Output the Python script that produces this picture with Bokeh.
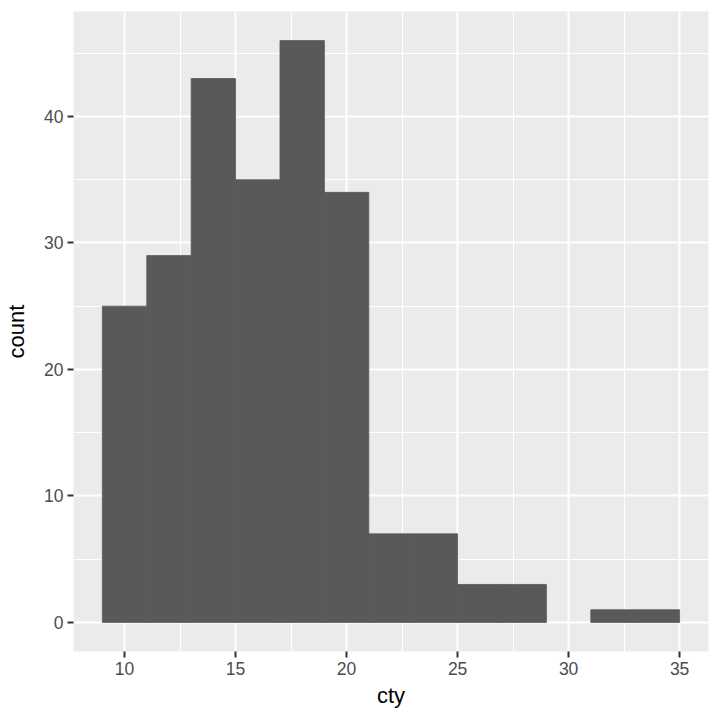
from bokeh.plotting import figure
from bokeh.models import Range1d, FixedTicker, ColumnDataSource
from bokeh.embed import file_html
from bokeh.resources import INLINE

bin_left = [9, 11, 13, 15, 17, 19, 21, 23, 25, 27, 29, 31, 33]
bin_right = [11, 13, 15, 17, 19, 21, 23, 25, 27, 29, 31, 33, 35]
counts = [25, 29, 43, 35, 46, 34, 7, 7, 3, 3, 0, 1, 1]
x_ticks = [10, 15, 20, 25, 30, 35]
y_ticks = [0, 10, 20, 30, 40]

keep = [i for i, c in enumerate(counts) if c > 0]
src = ColumnDataSource(dict(left=[bin_left[i] for i in keep],
                            right=[bin_right[i] for i in keep],
                            top=[counts[i] for i in keep]))

p = figure(width=712, height=716, output_backend="svg", toolbar_location=None,
           x_range=Range1d(7.7, 36.3), y_range=Range1d(-2.3, 48.3),
           min_border_left=73, min_border_right=4, min_border_top=11, min_border_bottom=65)
p.outline_line_color = None
p.background_fill_color = "#EBEBEB"
p.border_fill_color = "white"

p.quad(left="left", right="right", bottom=0, top="top", source=src,
       fill_color="#595959", line_color="#595959", line_width=0.8)

p.xaxis.ticker = FixedTicker(ticks=x_ticks, minor_ticks=[7.5, 12.5, 17.5, 22.5, 27.5, 32.5])
p.yaxis.ticker = FixedTicker(ticks=y_ticks, minor_ticks=[5, 15, 25, 35, 45])

for g in (p.xgrid, p.ygrid):
    g.grid_line_color = "white"
    g.grid_line_width = 2
    g.minor_grid_line_color = "white"
    g.minor_grid_line_width = 1

for ax in (p.xaxis, p.yaxis):
    ax.axis_line_color = None
    ax.major_tick_line_color = "#333333"
    ax.major_tick_line_width = 2
    ax.major_tick_in = 0
    ax.major_tick_out = 6
    ax.minor_tick_line_color = None
    ax.major_label_text_font = "Liberation Sans"
    ax.major_label_text_font_size = "17.5px"
    ax.major_label_text_color = "#4D4D4D"
    ax.axis_label_text_font = "Liberation Sans"
    ax.axis_label_text_font_size = "22px"
    ax.axis_label_text_font_style = "normal"
    ax.axis_label_text_color = "black"
    ax.major_label_standoff = 4

p.xaxis.axis_label = "cty"
p.yaxis.axis_label = "count"
p.xaxis.axis_label_standoff = 5
p.yaxis.axis_label_standoff = 12

open("out.html", "w").write(file_html(p, INLINE))
